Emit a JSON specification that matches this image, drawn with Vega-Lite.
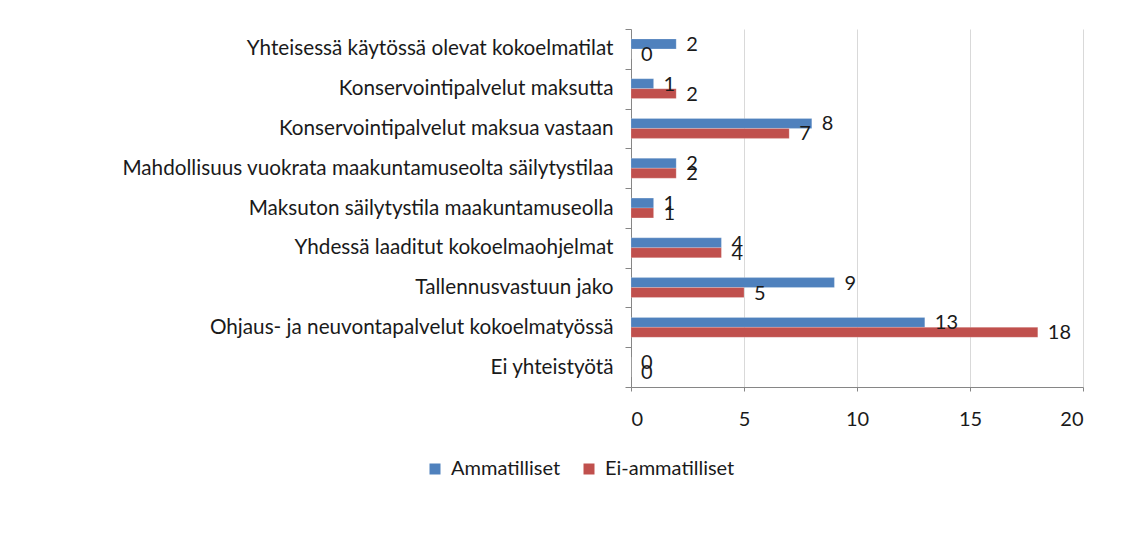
{
  "$schema": "https://vega.github.io/schema/vega-lite/v6.json",
  "autosize": {"type": "none"},
  "width": 452,
  "height": 358,
  "padding": {"left": 631, "top": 29, "right": 41, "bottom": 167},
  "background": "white",
  "config": {
    "font": "Lato",
    "view": {"stroke": null},
    "axis": {"labelFont": "Lato", "labelColor": "#1a1a1a"}
  },
  "data": {
    "values": [
      {"category": "Yhteisessä käytössä olevat kokoelmatilat", "series": "Ammatilliset", "value": 2},
      {"category": "Yhteisessä käytössä olevat kokoelmatilat", "series": "Ei-ammatilliset", "value": 0},
      {"category": "Konservointipalvelut maksutta", "series": "Ammatilliset", "value": 1},
      {"category": "Konservointipalvelut maksutta", "series": "Ei-ammatilliset", "value": 2},
      {"category": "Konservointipalvelut maksua vastaan", "series": "Ammatilliset", "value": 8},
      {"category": "Konservointipalvelut maksua vastaan", "series": "Ei-ammatilliset", "value": 7},
      {"category": "Mahdollisuus vuokrata maakuntamuseolta säilytystilaa", "series": "Ammatilliset", "value": 2},
      {"category": "Mahdollisuus vuokrata maakuntamuseolta säilytystilaa", "series": "Ei-ammatilliset", "value": 2},
      {"category": "Maksuton säilytystila maakuntamuseolla", "series": "Ammatilliset", "value": 1},
      {"category": "Maksuton säilytystila maakuntamuseolla", "series": "Ei-ammatilliset", "value": 1},
      {"category": "Yhdessä laaditut kokoelmaohjelmat", "series": "Ammatilliset", "value": 4},
      {"category": "Yhdessä laaditut kokoelmaohjelmat", "series": "Ei-ammatilliset", "value": 4},
      {"category": "Tallennusvastuun jako", "series": "Ammatilliset", "value": 9},
      {"category": "Tallennusvastuun jako", "series": "Ei-ammatilliset", "value": 5},
      {"category": "Ohjaus- ja neuvontapalvelut kokoelmatyössä", "series": "Ammatilliset", "value": 13},
      {"category": "Ohjaus- ja neuvontapalvelut kokoelmatyössä", "series": "Ei-ammatilliset", "value": 18},
      {"category": "Ei yhteistyötä", "series": "Ammatilliset", "value": 0},
      {"category": "Ei yhteistyötä", "series": "Ei-ammatilliset", "value": 0}
    ]
  },
  "encoding": {
    "y": {
      "field": "category",
      "type": "nominal",
      "sort": null,
      "title": null,
      "scale": {"paddingInner": 0, "paddingOuter": 0},
      "axis": {
        "tickBand": "extent",
        "tickSize": 6,
        "tickColor": "#868686",
        "domainColor": "#868686",
        "labelFontSize": 20.7,
        "labelPadding": 12,
        "labelLimit": 600
      }
    },
    "yOffset": {
      "field": "series",
      "type": "nominal",
      "sort": ["Ammatilliset", "Ei-ammatilliset"],
      "scale": {"paddingInner": 0, "paddingOuter": 1}
    },
    "x": {
      "field": "value",
      "type": "quantitative",
      "title": null,
      "scale": {"domain": [0, 20], "nice": false},
      "axis": {
        "values": [0, 5, 10, 15, 20],
        "grid": true,
        "gridColor": "#d9d9d9",
        "tickSize": 4,
        "tickColor": "#868686",
        "domainColor": "#868686",
        "labelFontSize": 20,
        "labelPadding": 18
      }
    }
  },
  "layer": [
    {
      "mark": {"type": "bar", "stroke": "#ffffff", "strokeOpacity": 0.4, "strokeWidth": 0.5},
      "encoding": {
        "color": {
          "field": "series",
          "type": "nominal",
          "scale": {"domain": ["Ammatilliset", "Ei-ammatilliset"], "range": ["#4F81BD", "#C0504D"]},
          "legend": {
            "title": null,
            "orient": "none",
            "direction": "horizontal",
            "legendX": -206,
            "legendY": 430,
            "symbolType": "square",
            "symbolSize": 121,
            "symbolStrokeWidth": 0,
            "labelFontSize": 20,
            "labelFont": "Lato",
            "labelColor": "#1a1a1a",
            "labelOffset": 6,
            "columnPadding": 18
          }
        }
      }
    },
    {
      "mark": {"type": "text", "align": "left", "baseline": "middle", "dx": 10, "dy": 1, "fontSize": 20, "color": "#1a1a1a"},
      "encoding": {"text": {"field": "value", "type": "quantitative"}}
    }
  ]
}
